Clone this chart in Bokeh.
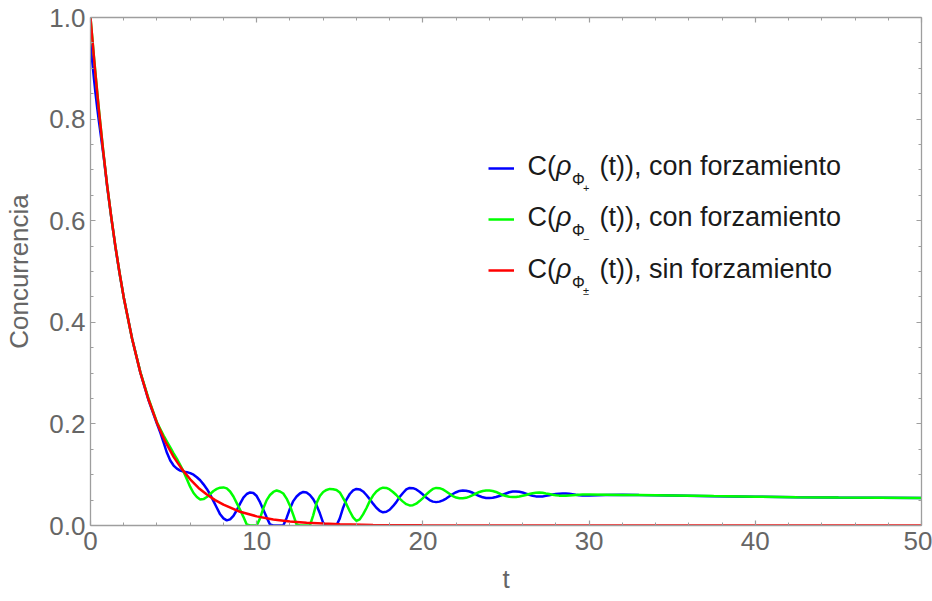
from bokeh.plotting import figure
from bokeh.models import (FixedTicker, LinearAxis, Range1d, Label, Legend,
                          LegendItem, NumeralTickFormatter)
from bokeh.embed import file_html
from bokeh.resources import INLINE

# ---------------- data ----------------
t_osc = [0, 0.1, 0.2, 0.3, 0.4, 0.5, 0.6, 0.8, 1.0, 1.25, 1.5, 1.75, 2.0, 2.5, 3.0, 3.5, 4.0,
         4.2, 4.4, 4.6, 4.8, 5.0, 5.2, 5.4, 5.6, 5.8, 6.0,
         6.2, 6.4, 6.6, 6.8, 7.0, 7.2, 7.4, 7.6, 7.8, 8.0,
         8.2, 8.4, 8.6, 8.8, 9.0, 9.2, 9.4, 9.6, 9.8, 10.0,
         10.2, 10.4, 10.6, 10.8, 11.0, 11.2, 11.4, 11.6, 11.8, 12.0,
         12.2, 12.4, 12.6, 12.8, 13.0, 13.2, 13.4, 13.6, 13.8, 14.0,
         14.2, 14.4, 14.6, 14.8, 15.0, 15.2, 15.4, 15.6, 15.8, 16.0,
         16.2, 16.4, 16.6, 16.8, 17.0, 17.2, 17.4, 17.6, 17.8, 18.0,
         18.2, 18.4, 18.6, 18.8, 19.0, 19.2, 19.4, 19.6, 19.8, 20.0,
         20.2, 20.4, 20.6, 20.8, 21.0, 21.2, 21.4, 21.6, 21.8, 22.0,
         22.2, 22.4, 22.6, 22.8, 23.0, 23.2, 23.4, 23.6, 23.8, 24.0,
         24.2, 24.4, 24.6, 24.8, 25.0, 25.2, 25.4, 25.6, 25.8, 26.0,
         26.2, 26.4, 26.6, 26.8, 27.0, 27.2, 27.4, 27.6, 27.8, 28.0,
         28.2, 28.4, 28.6, 28.8, 29.0, 29.2, 29.4, 29.6, 29.8, 30.0,
         31, 32, 33, 35, 37.5, 40, 42.5, 45, 47.5, 50]

c_phi_plus = [0.948, 0.915, 0.882, 0.851, 0.823, 0.797, 0.773, 0.724, 0.668, 0.606, 0.548, 0.496,
              0.449, 0.368, 0.301, 0.246, 0.200,
              0.183, 0.163, 0.143, 0.128, 0.118, 0.112, 0.108, 0.106, 0.105, 0.103,
              0.100, 0.095, 0.089, 0.081, 0.072, 0.061, 0.048, 0.035, 0.022, 0.014,
              0.010, 0.012, 0.019, 0.030, 0.043, 0.055, 0.062, 0.065, 0.064, 0.058,
              0.046, 0.031, 0.016, 0.002, 0.0, 0.0, 0.0, 0.0, 0.015, 0.033,
              0.048, 0.057, 0.063, 0.066, 0.065, 0.060, 0.052, 0.040, 0.024, 0.005,
              0.0, 0.0, 0.0, 0.0, 0.014, 0.035, 0.051, 0.062, 0.069, 0.072,
              0.071, 0.067, 0.060, 0.052, 0.043, 0.035, 0.029, 0.026, 0.027, 0.031,
              0.038, 0.046, 0.056, 0.064, 0.071, 0.074, 0.0735, 0.071, 0.0665, 0.061,
              0.055, 0.050, 0.047, 0.046, 0.047, 0.0495, 0.053, 0.0575, 0.062, 0.0655,
              0.068, 0.069, 0.0685, 0.067, 0.0645, 0.061, 0.058, 0.0555, 0.0543, 0.054,
              0.0545, 0.056, 0.058, 0.0605, 0.063, 0.0655, 0.0668, 0.067, 0.0665, 0.065,
              0.0628, 0.0605, 0.0585, 0.0573, 0.057, 0.0573, 0.0583, 0.0597, 0.061, 0.062,
              0.0627, 0.063, 0.063, 0.0625, 0.0615, 0.0605, 0.0597, 0.0592, 0.059, 0.059,
              0.0600, 0.0605, 0.0598, 0.0590, 0.0578, 0.0567, 0.0558, 0.0551, 0.0546, 0.0541]

c_phi_minus = [1.000, 0.963, 0.926, 0.890, 0.855, 0.821, 0.789, 0.727, 0.670, 0.607, 0.549, 0.497,
               0.449, 0.368, 0.302, 0.249, 0.203,
               0.190, 0.177, 0.165, 0.154, 0.142, 0.131, 0.119, 0.106, 0.091, 0.076,
               0.064, 0.056, 0.051, 0.052, 0.056, 0.062, 0.068, 0.072, 0.0745, 0.075,
               0.073, 0.067, 0.057, 0.044, 0.031, 0.017, 0.002, 0.0, 0.0, 0.0,
               0.014, 0.034, 0.050, 0.060, 0.066, 0.069, 0.067, 0.063, 0.053, 0.039,
               0.021, 0.002, 0.0, 0.0, 0.0, 0.0, 0.020, 0.044, 0.058, 0.066,
               0.070, 0.072, 0.0715, 0.070, 0.065, 0.054, 0.042, 0.028, 0.016, 0.009,
               0.012, 0.022, 0.034, 0.048, 0.059, 0.067, 0.072, 0.0745, 0.074, 0.071,
               0.066, 0.060, 0.053, 0.047, 0.042, 0.0395, 0.040, 0.043, 0.048, 0.054,
               0.061, 0.067, 0.072, 0.074, 0.0735, 0.071, 0.067, 0.0625, 0.058, 0.055,
               0.0535, 0.0535, 0.0545, 0.057, 0.060, 0.063, 0.066, 0.068, 0.069, 0.069,
               0.068, 0.066, 0.063, 0.060, 0.058, 0.0565, 0.056, 0.056, 0.057, 0.0585,
               0.060, 0.062, 0.0635, 0.0645, 0.065, 0.0645, 0.063, 0.062, 0.0605, 0.0595,
               0.0588, 0.0585, 0.0585, 0.059, 0.0595, 0.060, 0.0605, 0.0608, 0.061, 0.061,
               0.0605, 0.0598, 0.0600, 0.0592, 0.0579, 0.0567, 0.0558, 0.0551, 0.0546, 0.0541]

t_free = [0, 0.25, 0.5, 0.75, 1, 1.25, 1.5, 1.75, 2, 2.5, 3, 3.5, 4, 4.5, 5, 5.5, 6, 6.5,
          7, 7.5, 8, 9, 10, 11, 12, 13, 14, 15, 17, 20, 25, 30, 40, 50]
c_free = [1.000, 0.905, 0.819, 0.741, 0.670, 0.607, 0.549, 0.497, 0.449, 0.368, 0.301, 0.247,
          0.202, 0.165, 0.135, 0.111, 0.091, 0.074, 0.061, 0.050, 0.041, 0.027, 0.018, 0.012,
          0.008, 0.0055, 0.0037, 0.0025, 0.0011, 0.0003, 0.0, 0.0, 0.0, 0.0]

x_major = [0, 10, 20, 30, 40, 50]
x_minor = [2, 4, 6, 8, 12, 14, 16, 18, 22, 24, 26, 28, 32, 34, 36, 38, 42, 44, 46, 48]
y_major = [0.0, 0.2, 0.4, 0.6, 0.8, 1.0]
y_minor = [0.05, 0.1, 0.15, 0.25, 0.3, 0.35, 0.45, 0.5, 0.55, 0.65, 0.7, 0.75,
           0.85, 0.9, 0.95]

legend_sub = ["+", "\u2212", "\u00b1"]
legend_tail = ["(t)), con forzamiento", "(t)), con forzamiento", "(t)), sin forzamiento"]
x_label = "t"
y_label = "Concurrencia"

# ---------------- styling ----------------
FONT = "Liberation Sans"
FRAME = "#9e9e9e"
TXT_GRAY = "#666666"
LEG_TXT = "#1a1a1a"

p = figure(width=932, height=601, output_backend="svg", toolbar_location=None,
           x_range=Range1d(0, 50), y_range=Range1d(0, 1),
           min_border_left=90, min_border_right=11, min_border_top=17, min_border_bottom=76,
           x_axis_location=None, y_axis_location=None)
p.grid.visible = False
p.outline_line_color = None
p.background_fill_color = "white"
p.border_fill_color = "white"

xt = FixedTicker(ticks=x_major, minor_ticks=x_minor)
yt = FixedTicker(ticks=y_major, minor_ticks=y_minor)


def style(ax, labels=True):
    ax.axis_line_color = FRAME
    ax.axis_line_width = 1.3
    ax.major_tick_line_color = FRAME
    ax.minor_tick_line_color = FRAME
    ax.major_tick_line_width = 1.2
    ax.minor_tick_line_width = 1.0
    ax.major_tick_in = 5
    ax.major_tick_out = 0
    ax.minor_tick_in = 3
    ax.minor_tick_out = 0
    if labels:
        ax.major_label_text_font = FONT
        ax.major_label_text_font_size = "26px"
        ax.major_label_text_color = TXT_GRAY
        ax.axis_label_text_font = FONT
        ax.axis_label_text_font_size = "26px"
        ax.axis_label_text_color = TXT_GRAY
        ax.axis_label_text_font_style = "normal"
    else:
        ax.major_label_text_font_size = "0px"
        ax.major_label_text_color = None


bottom = LinearAxis(ticker=xt, axis_label=x_label, major_label_standoff=6,
                    axis_label_standoff=11)
left = LinearAxis(ticker=yt, axis_label=y_label, major_label_standoff=5,
                  axis_label_standoff=12, formatter=NumeralTickFormatter(format="0.0"))
top = LinearAxis(ticker=xt)
right = LinearAxis(ticker=yt)
style(bottom)
style(left)
style(top, False)
style(right, False)
p.add_layout(bottom, "below")
p.add_layout(left, "left")
p.add_layout(top, "above")
p.add_layout(right, "right")

rb = p.line(t_osc, c_phi_plus, line_color="#0000ff", line_width=2.5)
rg = p.line(t_osc, c_phi_minus, line_color="#00ff00", line_width=2.5)
rr = p.line(t_free, c_free, line_color="#ff0000", line_width=2.5)

legend = Legend(items=[LegendItem(label=" ", renderers=[r]) for r in (rb, rg, rr)],
                location=(398, 245), glyph_width=26, glyph_height=20, label_width=0,
                label_height=20, spacing=31, padding=0, margin=0, label_standoff=0,
                border_line_color=None, background_fill_alpha=0,
                label_text_font_size="1px")
p.add_layout(legend)


def put(x, y, text, size, style="normal"):
    p.add_layout(Label(x=x, y=y, x_units="screen", y_units="screen", text=text,
                       text_font=FONT, text_font_size=f"{size}px", text_color=LEG_TXT,
                       text_font_style=style, text_baseline="alphabetic", text_align="left"))


# legend texts, with subscripts (baselines shifted to compensate rendering)
for i in range(3):
    base = 350 - 51.4 * i
    put(437, base + 9.5, "C(", 27)
    put(465.5, base + 9.5, "\u03c1", 27, "italic")
    put(481.5, base - 13 + 9.0, "\u03a6", 16)
    put(492.5, base - 19 + 6.5, legend_sub[i], 11)
    put(509, base + 9.5, legend_tail[i], 27)

open("out.html", "w").write(file_html(p, INLINE))
